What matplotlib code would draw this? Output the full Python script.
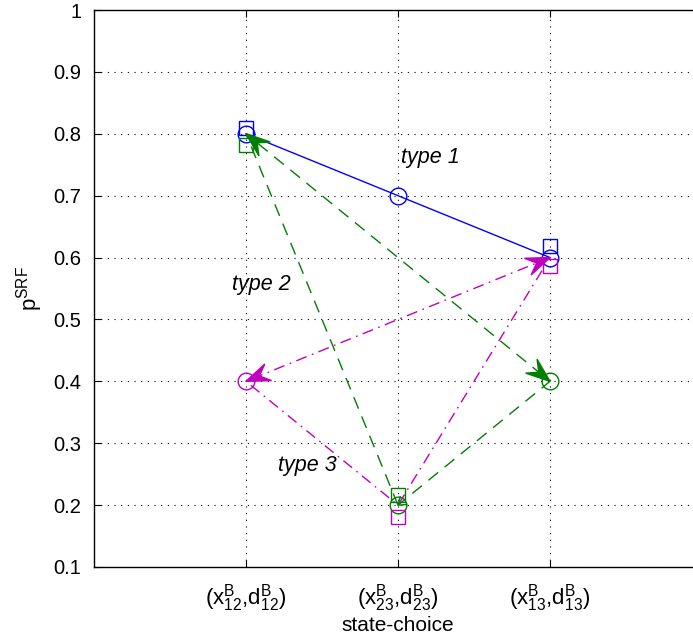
import numpy as np
import matplotlib
matplotlib.use("Agg")
import matplotlib.pyplot as plt
from matplotlib.patches import Polygon

plt.rcParams['font.family'] = ['Liberation Sans', 'DejaVu Sans']
plt.rcParams['mathtext.fontset'] = 'custom'
plt.rcParams['mathtext.rm'] = 'Liberation Sans'
plt.rcParams['mathtext.it'] = 'Liberation Sans:italic'
plt.rcParams['mathtext.default'] = 'regular'

# data
states = [1, 2, 3]
tick_labels = [r'$(x^B_{12}{,}d^B_{12})$', r'$(x^B_{23}{,}d^B_{23})$', r'$(x^B_{13}{,}d^B_{13})$']
yticks = [0.1, 0.2, 0.3, 0.4, 0.5, 0.6, 0.7, 0.8, 0.9, 1.0]
ytick_labels = ['0.1', '0.2', '0.3', '0.4', '0.5', '0.6', '0.7', '0.8', '0.9', '1']

type1_x = [1, 2, 3]
type1_y = [0.8, 0.7, 0.6]

# type 2 (green)
type2_x = [2, 1, 3, 2]
type2_y = [0.2, 0.8, 0.4, 0.2]
type2_circ_x = [3, 2]
type2_circ_y = [0.4, 0.2]

# type 3 (magenta)
type3_x = [3, 1, 2, 3]
type3_y = [0.6, 0.4, 0.2, 0.6]
type3_circ_x = [1]
type3_circ_y = [0.4]

sq_blue_x = [1, 3]
sq_blue_y = [0.81, 0.618]
sq_green_x = [1, 2]
sq_green_y = [0.782, 0.217]
sq_mag_x = [3, 2]
sq_mag_y = [0.586, 0.18]

blue = '#0000ff'
green = '#007f00'
mag = '#bf00bf'

fig = plt.figure(figsize=(6.93, 6.34), dpi=100)
ax = fig.add_axes([94 / 693, 67 / 634, 608 / 693, 557 / 634])
ax.set_xlim(0, 4)
ax.set_ylim(0.1, 1.0)
ax.set_xticks(states)
ax.set_xticklabels(tick_labels, fontsize=16)
ax.set_yticks(yticks)
ax.set_yticklabels(ytick_labels, fontsize=14.5)
ax.tick_params(direction='in', length=5, top=True, right=False)
ax.tick_params(axis='y', pad=9)
ax.tick_params(axis='x', pad=11)
ax.grid(True, color='black', linestyle=(0, (1, 5)), linewidth=0.8)
ax.spines['right'].set_visible(False)
for s in ax.spines.values():
    s.set_linewidth(1.0)

ax.plot(type1_x, type1_y, '-', color=blue, linewidth=1.0)
ax.plot(type1_x, type1_y, 'o', mfc='none', mec=blue, ms=12, mew=1.0)
ax.plot(type2_x, type2_y, color=green, linestyle=(0, (9, 6)), linewidth=1.0)
ax.plot(type2_circ_x, type2_circ_y, 'o', mfc='none', mec=green, ms=12, mew=1.0)
ax.plot(type3_x, type3_y, color=mag, linestyle=(0, (8, 4, 1.2, 4)), linewidth=1.0)
ax.plot(type3_circ_x, type3_circ_y, 'o', mfc='none', mec=mag, ms=12, mew=1.0)
ax.plot(sq_blue_x, sq_blue_y, 's', mfc='none', mec=blue, ms=10.5, mew=1.0)
ax.plot(sq_green_x, sq_green_y, 's', mfc='none', mec=green, ms=10.5, mew=1.0)
ax.plot(sq_mag_x, sq_mag_y, 's', mfc='none', mec=mag, ms=10.5, mew=1.0)


def head(x0, y0, x1, y1, color, L=24, W=18, filled=True):
    p0 = ax.transData.transform((x0, y0))
    p1 = ax.transData.transform((x1, y1))
    d = (p1 - p0) / np.linalg.norm(p1 - p0)
    n = np.array([-d[1], d[0]])
    if filled:
        pts = [p1, p1 - d * L + n * W / 2, p1 - d * L * 0.6, p1 - d * L - n * W / 2]
        pts = ax.transData.inverted().transform(np.array(pts))
        ax.add_patch(Polygon(pts, closed=True, color=color, zorder=3))
    else:
        pts = [p1 - d * L + n * W / 2, p1, p1 - d * L - n * W / 2]
        pts = ax.transData.inverted().transform(np.array(pts))
        ax.plot(pts[:, 0], pts[:, 1], color=color, linewidth=1.0)


head(3, 0.4, 1, 0.8, green)
head(1, 0.8, 3, 0.4, green)
head(3, 0.4, 2, 0.2, green, L=7, W=10, filled=False)
head(3, 0.6, 1, 0.4, mag)
head(1, 0.4, 3, 0.6, mag)

ax.text(2.02, 0.752, 'type 1', fontsize=15.5, style='italic')
ax.text(0.91, 0.548, 'type 2', fontsize=15.5, style='italic')
ax.text(1.21, 0.255, 'type 3', fontsize=15.5, style='italic')

ax.set_xlabel('state-choice', fontsize=15, labelpad=1)
ax.set_ylabel(r'$p^{SRF}$', fontsize=16, labelpad=6)

fig.savefig('out.png', dpi=100)
